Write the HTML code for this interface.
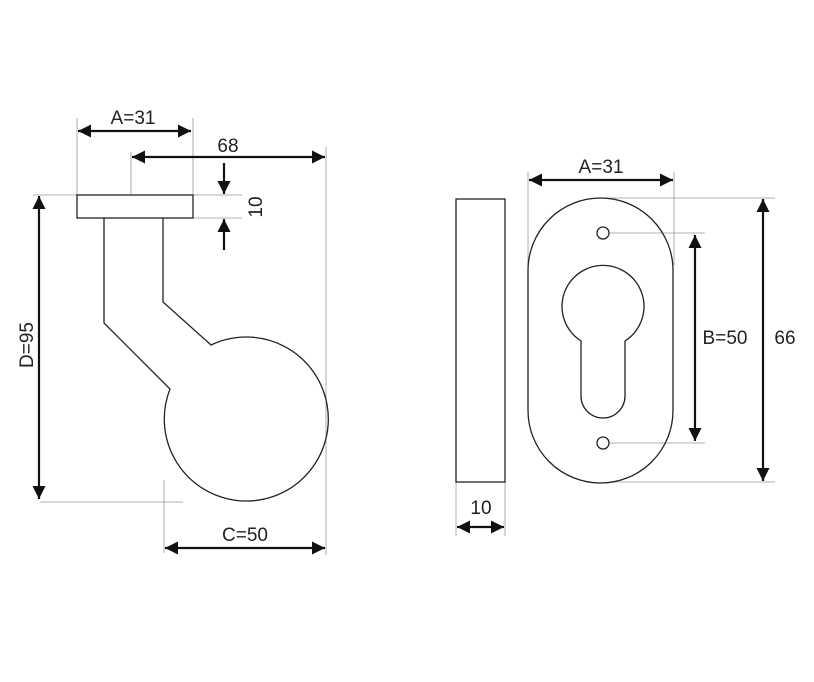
<!DOCTYPE html>
<html><head><style>body{margin:0;background:#fff}svg{display:block}text{font-family:"Liberation Sans",sans-serif;fill:#222}</style></head><body>
<svg width="814" height="682" viewBox="0 0 814 682" xmlns="http://www.w3.org/2000/svg">
<defs>
<marker id="a" viewBox="0 0 10 10" refX="10" refY="5" markerWidth="13" markerHeight="13" markerUnits="userSpaceOnUse" orient="auto-start-reverse"><path d="M0,0 L10,5 L0,10z" fill="#111"/></marker>
</defs>
<g stroke="#999" stroke-width="0.8" fill="none">
<line x1="77" y1="118" x2="77" y2="195"/><line x1="193" y1="118" x2="193" y2="195"/>
<line x1="131" y1="152" x2="131" y2="195"/>
<line x1="326" y1="147" x2="326" y2="555"/>
<line x1="33" y1="195" x2="77" y2="195"/>
<line x1="193" y1="195" x2="242" y2="195"/><line x1="193" y1="218" x2="242" y2="218"/>
<line x1="40" y1="502" x2="183" y2="502"/>
<line x1="164" y1="480" x2="164" y2="553"/>
<line x1="456" y1="482" x2="456" y2="536"/><line x1="505" y1="482" x2="505" y2="536"/>
<line x1="528" y1="172" x2="528" y2="270"/><line x1="674" y1="172" x2="674" y2="265"/>
<line x1="603" y1="198" x2="775" y2="198"/><line x1="610" y1="482" x2="775" y2="482"/>
<line x1="609" y1="233" x2="705" y2="233"/><line x1="609" y1="443" x2="705" y2="443"/>
</g>
<g stroke="#111" stroke-width="2.2" fill="none">
<line x1="78" y1="131" x2="191" y2="131" marker-start="url(#a)" marker-end="url(#a)"/>
<line x1="132" y1="157" x2="325" y2="157" marker-start="url(#a)" marker-end="url(#a)"/>
<line x1="224" y1="163" x2="224" y2="194" marker-end="url(#a)"/>
<line x1="224" y1="250" x2="224" y2="219" marker-end="url(#a)"/>
<line x1="39" y1="196" x2="39" y2="499" marker-start="url(#a)" marker-end="url(#a)"/>
<line x1="165" y1="548" x2="325" y2="548" marker-start="url(#a)" marker-end="url(#a)"/>
<line x1="457" y1="527" x2="504" y2="527" marker-start="url(#a)" marker-end="url(#a)"/>
<line x1="529" y1="180" x2="673" y2="180" marker-start="url(#a)" marker-end="url(#a)"/>
<line x1="695" y1="235" x2="695" y2="441" marker-start="url(#a)" marker-end="url(#a)"/>
<line x1="763" y1="199" x2="763" y2="481" marker-start="url(#a)" marker-end="url(#a)"/>
</g>
<g stroke="#222" stroke-width="1.3" fill="none">
<rect x="77" y="195" width="116" height="23"/>
<path d="M104,218 L104,323 L170,389 A82,82 0 1 0 211,345 L163,302 L163,218"/>
<rect x="456" y="199" width="49" height="283"/>
<path d="M528,270.5 A72.5,72.5 0 0 1 673,270.5 L673,410.5 A72.5,72.5 0 0 1 528,410.5 Z"/>
<circle cx="603" cy="233" r="6"/><circle cx="603" cy="443" r="6"/>
<path d="M581,341 A41,41 0 1 1 625,341 L625,396 A22,22 0 0 1 581,396 Z"/>
</g>
<g font-size="19">
<text x="133" y="124" text-anchor="middle">A=31</text>
<text x="228" y="152" text-anchor="middle">68</text>
<text transform="translate(262,207) rotate(-90)" text-anchor="middle">10</text>
<text transform="translate(33,345) rotate(-90)" text-anchor="middle">D=95</text>
<text x="245" y="541" text-anchor="middle">C=50</text>
<text x="481" y="514" text-anchor="middle">10</text>
<text x="601" y="173" text-anchor="middle">A=31</text>
<text x="725" y="344" text-anchor="middle">B=50</text>
<text x="785" y="344" text-anchor="middle">66</text>
</g>
</svg>
</body></html>
